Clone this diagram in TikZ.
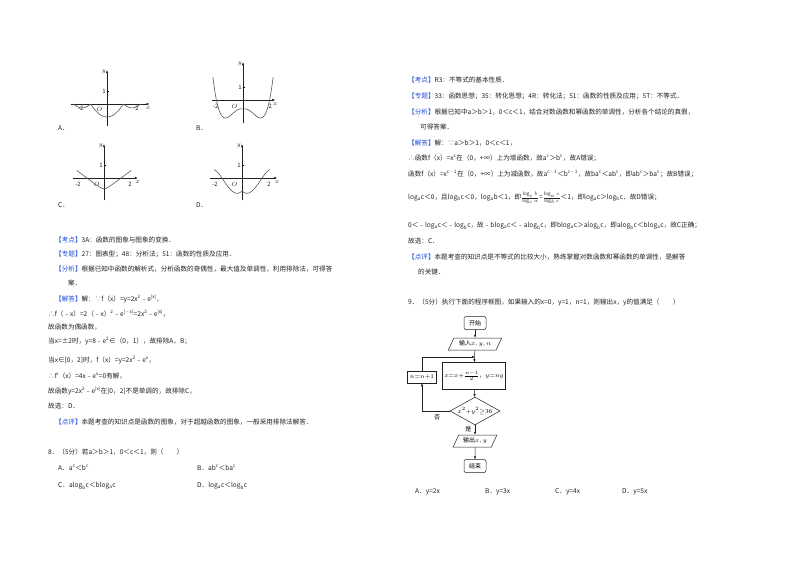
\documentclass[tikz,border=0pt]{standalone}
\usepackage{fontspec}
\setmainfont{Noto Sans CJK SC}
\usetikzlibrary{shapes.geometric,arrows.meta}
\definecolor{tagblue}{HTML}{1F4FD8}
\definecolor{ink}{HTML}{222222}
\newcommand{\tg}[1]{\textcolor{tagblue}{【#1】}}
\newcommand{\sps}[1]{\textsuperscript{#1}}
\newcommand{\sbs}[1]{\textsubscript{#1}}
\tikzset{
  txt/.style={anchor=west,inner sep=0pt,font=\fontsize{6.6}{8}\selectfont,text=ink},
  fc/.style={draw=ink,line width=0.5pt,font=\fontsize{6}{7}\selectfont,inner sep=2pt},
  fcbox/.style={fc,rectangle},
  fcround/.style={fc,rounded corners=2pt,minimum width=22pt,minimum height=13pt},
  fcpara/.style={fc,trapezium,trapezium left angle=65,trapezium right angle=115,minimum height=12pt},
  fcdia/.style={fc,diamond,aspect=1.8,inner sep=0.5pt},
  arr/.style={draw=ink,line width=0.5pt,-{Latex[length=3pt,width=2.5pt]}},
  ax/.style={draw=ink,line width=0.45pt,-{Latex[length=3pt,width=2.5pt]}},
  crv/.style={draw=gray!70!black,line width=0.6pt},
  lab/.style={font=\fontsize{6}{7}\selectfont\itshape,inner sep=1pt,text=ink}
}
\begin{document}
\begin{tikzpicture}[x=1pt,y=-1pt]
\useasboundingbox[fill=white] (0,0) rectangle (800,565);
% ---------- Graph A ----------
\begin{scope}[shift={(107,104)},x=12.5pt,y=13pt]
\draw[ax] (-2.9,0)--(3.4,0); \draw[ax] (0,-1.7)--(0,2.6);
\draw (0,1)--(0.15,1); \node[lab,left] (ta) at (0,1) {1};
\node[lab,left] (ya) at (0,2.5) {$y$}; \node[lab] (xa) at (3.3,-0.3) {$x$};
\node[lab] (oa) at (-0.6,-0.45) {$O$}; \node[lab] (ma) at (-2.1,-0.3) {-2}; \node[lab] (pa) at (2.4,-0.3) {2};
\draw[crv] plot[smooth,domain=-1.3:1.3,samples=41] (\x,{(\x)^2/1.69-1});
\draw[crv] plot[smooth,domain=1.3:2.7,samples=21] (\x,{-0.3*sin(180*(\x-1.3)/1.4)});
\draw[crv] plot[smooth,domain=-2.7:-1.3,samples=21] (\x,{-0.3*sin(180*(-\x-1.3)/1.4)});
\end{scope}
\node[txt] (la) at (58,128) {A．};
% ---------- Graph B ----------
\begin{scope}[shift={(243,100)},x=14pt,y=13pt]
\draw[ax] (-2.2,0)--(2.3,0); \draw[ax] (0,-1.8)--(0,2.9);
\draw (0,1)--(0.15,1); \node[lab,left] (tb) at (0,1) {1};
\node[lab,left] (yb) at (0,2.8) {$y$}; \node[lab] (xb) at (2.3,-0.35) {$x$};
\node[lab] (ob) at (-0.6,-0.5) {$O$}; \node[lab] (mb) at (-1.95,-0.45) {-2}; \node[lab] (pb) at (1.95,-0.45) {2};
\draw[crv] plot[smooth,domain=-2.15:2.15,samples=81] (\x,{0.35*((\x)^2-4)*((\x)^2+0.5)+0.3*abs(\x)});
\end{scope}
\node[txt] (lb) at (196,128) {B．};
% ---------- Graph C ----------
\begin{scope}[shift={(104,178)},x=13pt,y=13pt]
\draw[ax] (-2.4,0)--(2.6,0); \draw[ax] (0,-1.7)--(0,2.6);
\draw (0,1)--(0.15,1); \node[lab,left] (tc) at (0,1) {1};
\node[lab,left] (yc) at (0,2.5) {$y$}; \node[lab] (xc) at (2.6,-0.35) {$x$};
\node[lab] (oc) at (-0.55,-0.5) {$O$}; \node[lab] (mc) at (-2.0,-0.45) {-2}; \node[lab] (pc) at (2.0,-0.45) {2};
\draw[crv] plot[smooth,domain=-2.1:2.1,samples=61] (\x,{0.75*sqrt((\x)^2+0.05)-1.0});
\end{scope}
\node[txt] (lc) at (58,205) {C．};
% ---------- Graph D ----------
\begin{scope}[shift={(242,178)},x=13.5pt,y=13pt]
\draw[ax] (-2.4,0)--(2.6,0); \draw[ax] (0,-1.7)--(0,2.6);
\draw (0,1)--(0.15,1); \node[lab,left] (td) at (0,1) {1};
\node[lab,left] (yd) at (0,2.5) {$y$}; \node[lab] (xd) at (2.6,-0.35) {$x$};
\node[lab] (od) at (-0.55,-0.5) {$O$}; \node[lab] (md) at (-2.0,-0.45) {-2}; \node[lab] (pd) at (2.0,-0.45) {2};
\draw[crv] plot[smooth,domain=-2.05:2.05,samples=81] (\x,{2*(\x)^2-exp(abs(\x))});
\end{scope}
\node[txt] (ld) at (196,205) {D．};
% ---------- left text ----------
\node[txt] (l1) at (55,240) {\tg{考点}3A：函数的图象与图象的变换．};
\node[txt] (l2) at (55,254) {\tg{专题}27：图表型；48：分析法；51：函数的性质及应用．};
\node[txt] (l3) at (55,269) {\tg{分析}根据已知中函数的解析式，分析函数的奇偶性，最大值及单调性，利用排除法，可得答};
\node[txt] (l4) at (68,283) {案．};
\node[txt] (l5) at (55,299) {\tg{解答}解：∵f（x）=y=2x\sps{2}﹣e\sps{|x|}，};
\node[txt] (l6) at (48,313) {∴f（﹣x）=2（﹣x）\sps{2}﹣e\sps{|﹣x|}=2x\sps{2}﹣e\sps{|x|}，};
\node[txt] (l7) at (48,327) {故函数为偶函数，};
\node[txt] (l8) at (48,341) {当x=±2时，y=8﹣e\sps{2}∈（0，1），故排除A，B；};
\node[txt] (l9) at (48,360) {当x∈[0，2]时，f（x）=y=2x\sps{2}﹣e\sps{x}，};
\node[txt] (l10) at (48,376) {∴f′（x）=4x﹣e\sps{x}=0有解，};
\node[txt] (l11) at (48,391) {故函数y=2x\sps{2}﹣e\sps{|x|}在[0，2]不是单调的，故排除C，};
\node[txt] (l12) at (48,406) {故选：D．};
\node[txt] (l13) at (55,422) {\tg{点评}本题考查的知识点是函数的图象，对于超越函数的图象，一般采用排除法解答．};
\node[txt] (l14) at (48,452) {8．（5分）若a＞b＞1，0＜c＜1，则（\quad\quad）};
\node[txt] (l15) at (58,468) {A．a\sps{c}＜b\sps{c}};
\node[txt] (l16) at (197,468) {B．ab\sps{c}＜ba\sps{c}};
\node[txt] (l17) at (58,486) {C．alog\sbs{b}c＜blog\sbs{a}c};
\node[txt] (l18) at (197,486) {D．log\sbs{a}c＜log\sbs{b}c};
% ---------- right text ----------
\node[txt] (r1) at (408,80) {\tg{考点}R3：不等式的基本性质．};
\node[txt] (r2) at (408,96) {\tg{专题}33：函数思想；35：转化思想；4R：转化法；51：函数的性质及应用；5T：不等式．};
\node[txt] (r3) at (408,112) {\tg{分析}根据已知中a＞b＞1，0＜c＜1，结合对数函数和幂函数的单调性，分析各个结论的真假，};
\node[txt] (r4) at (420,127) {可得答案．};
\node[txt] (r5) at (408,143) {\tg{解答}解：∵a＞b＞1，0＜c＜1，};
\node[txt] (r6) at (408,158) {∴函数f（x）=x\sps{c}在（0，+∞）上为增函数，故a\sps{c}＞b\sps{c}，故A错误；};
\node[txt] (r7) at (408,174) {函数f（x）=x\sps{c﹣1}在（0，+∞）上为减函数，故a\sps{c﹣1}＜b\sps{c﹣1}，故ba\sps{c}＜ab\sps{c}，即ab\sps{c}＞ba\sps{c}；故B错误；};
\node[txt] (r8) at (408,198) {log\sbs{a}c＜0，且log\sbs{b}c＜0，log\sbs{a}b＜1，即$\frac{\log_c b}{\log_c a}$=$\frac{\log_a c}{\log_b c}$＜1，即log\sbs{a}c＞log\sbs{b}c．故D错误；};
\node[txt] (r9) at (408,226) {0＜﹣log\sbs{a}c＜﹣log\sbs{b}c，故﹣blog\sbs{a}c＜﹣alog\sbs{b}c，即blog\sbs{a}c＞alog\sbs{b}c，即alog\sbs{b}c＜blog\sbs{a}c，故C正确；};
\node[txt] (r10) at (408,241) {故选：C．};
\node[txt] (r11) at (408,257) {\tg{点评}本题考查的知识点是不等式的比较大小，熟练掌握对数函数和幂函数的单调性，是解答};
\node[txt] (r12) at (418,272) {的关键．};
\node[txt] (r13) at (408,302) {9．（5分）执行下面的程序框图，如果输入的x=0，y=1，n=1，则输出x，y的值满足（\quad\quad）};
% ---------- flowchart ----------
\node[fcround] (start) at (475,323) {开始};
\node[fcpara] (inp) at (475,344) {输入$x,y,n$};
\node[fcbox,minimum width=53pt,minimum height=27pt] (proc) at (474,376) {$x{=}x{+}\frac{n-1}{2}$，$y{=}ny$};
\node[fcbox,minimum width=29pt,minimum height=12pt] (inc) at (422,377) {$n{=}n{+}1$};
\node[fcdia] (cond) at (475,411) {$x^2{+}y^2{\ge}36$};
\node[fcpara] (outp) at (475,441) {输出$x,y$};
\node[fcround] (stop) at (475,466) {结束};
\coordinate (lp) at (422,411);
\coordinate (tp) at (422,357);
\coordinate (mp) at (475,357);
\draw[arr] (start)--(inp);
\draw[arr] (inp)--(proc);
\draw[arr] (proc)--(cond);
\draw[arr] (cond)--(outp) node[pos=0.4,left,font=\fontsize{6}{7}\selectfont]{是};
\draw[arr] (outp)--(stop);
\draw[arr] (cond.west)--(lp)--(inc.south);
\draw[arr] (inc.north)--(tp)--(mp);
\node[font=\fontsize{6}{7}\selectfont] (no) at (437,417) {否};
% answers
\node[txt] (a9) at (415,492) {A．y=2x};
\node[txt] (b9) at (485,492) {B．y=3x};
\node[txt] (c9) at (555,492) {C．y=4x};
\node[txt] (d9) at (622,492) {D．y=5x};
\end{tikzpicture}
\end{document}
